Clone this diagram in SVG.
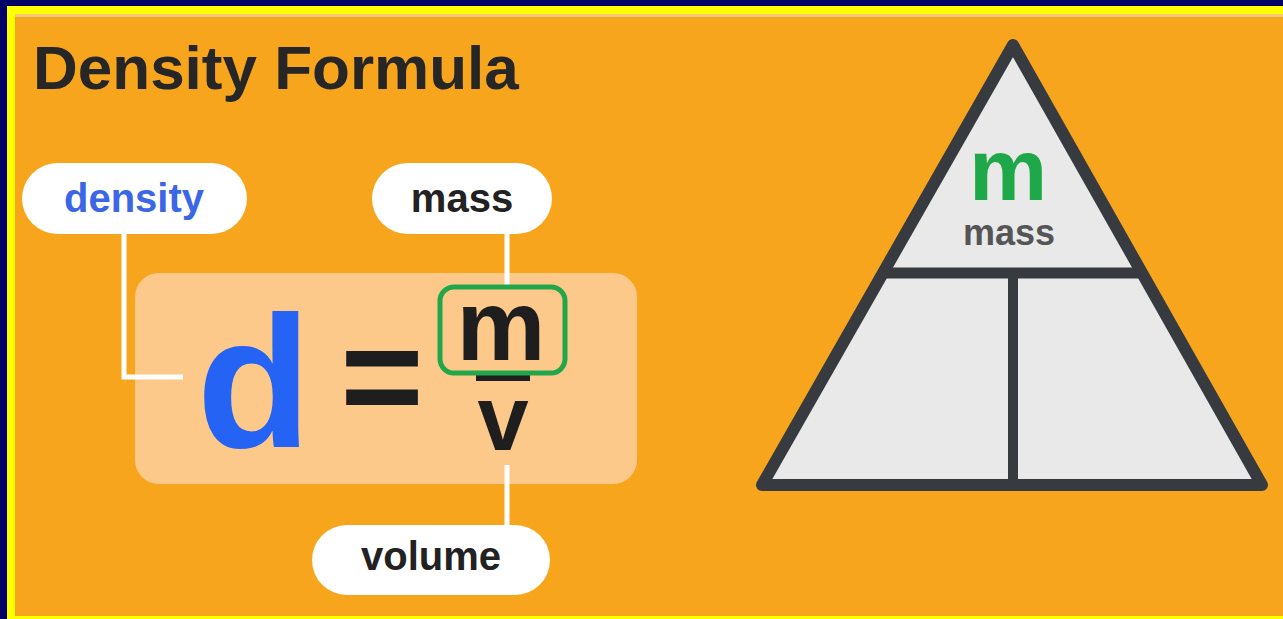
<svg xmlns="http://www.w3.org/2000/svg" width="1283" height="619" viewBox="0 0 1283 619">
  <style>
    .t { font-family: "Liberation Sans", Arial, sans-serif; font-weight: bold; }
    .pill { fill: #ffffff; }
    .lbl { font-size: 40px; text-anchor: middle; fill: #222222; }
    .conn { stroke: #ffffff; stroke-width: 5; fill: none; }
    .tri { stroke: #373b40; stroke-width: 12; stroke-linejoin: round; fill: #e9e9e9; }
    .div { stroke: #373b40; fill: none; }
  </style>
  <g id="frame">
    <rect x="0" y="0" width="1283" height="619" fill="#000066"/>
    <rect x="7" y="6" width="1276" height="613" fill="#ffff00"/>
    <rect x="15" y="14" width="1268" height="602" fill="#f8a51e"/>
    <rect x="15" y="14" width="1268" height="3" fill="#f3c878"/>
  </g>
  <g id="title">
    <text class="t" x="33" y="89" font-size="62" fill="#262626">Density Formula</text>
  </g>
  <g id="formula-box">
    <rect x="135" y="273" width="502" height="211" rx="24" fill="#fcc98b"/>
  </g>
  <g id="connectors">
    <polyline class="conn" points="124,232 124,377 183,377"/>
    <line class="conn" x1="507" y1="232" x2="507" y2="285"/>
    <line class="conn" x1="507" y1="465" x2="507" y2="527"/>
  </g>
  <g id="formula">
    <text class="t" x="254" y="447" font-size="188" text-anchor="middle" fill="#2563f5">d</text>
    <text class="t" x="382" y="425" font-size="143" text-anchor="middle" fill="#1e1e1e">=</text>
    <rect x="476" y="375" width="54" height="6" fill="#1e1e1e"/>
    <rect x="440" y="287" width="125" height="86" rx="14" fill="none" stroke="#22a64a" stroke-width="5"/>
    <text class="t" x="501" y="360" font-size="100" text-anchor="middle" fill="#1e1e1e">m</text>
    <text class="t" x="503" y="450" font-size="92" text-anchor="middle" fill="#1e1e1e">v</text>
  </g>
  <g id="density-label">
    <rect class="pill" x="22" y="163" width="225" height="71" rx="35.5"/>
    <text class="t lbl" x="134" y="212" fill="#3b66e6" style="fill:#3b66e6">density</text>
  </g>
  <g id="mass-label">
    <rect class="pill" x="372" y="163" width="180" height="71" rx="35.5"/>
    <text class="t lbl" x="462" y="212">mass</text>
  </g>
  <g id="volume-label">
    <rect class="pill" x="312" y="525" width="238" height="70" rx="35"/>
    <text class="t lbl" x="431" y="570">volume</text>
  </g>
  <g id="triangle">
    <polygon class="tri" points="1013,45 762,485 1262,485"/>
    <line class="div" x1="880" y1="273" x2="1146" y2="273" stroke-width="11"/>
    <line class="div" x1="1013" y1="273" x2="1013" y2="485" stroke-width="10"/>
    <text class="t" x="1008" y="200" font-size="88" text-anchor="middle" fill="#1fa84a">m</text>
    <text class="t" x="1009" y="245" font-size="36" text-anchor="middle" fill="#555555">mass</text>
  </g>
</svg>
